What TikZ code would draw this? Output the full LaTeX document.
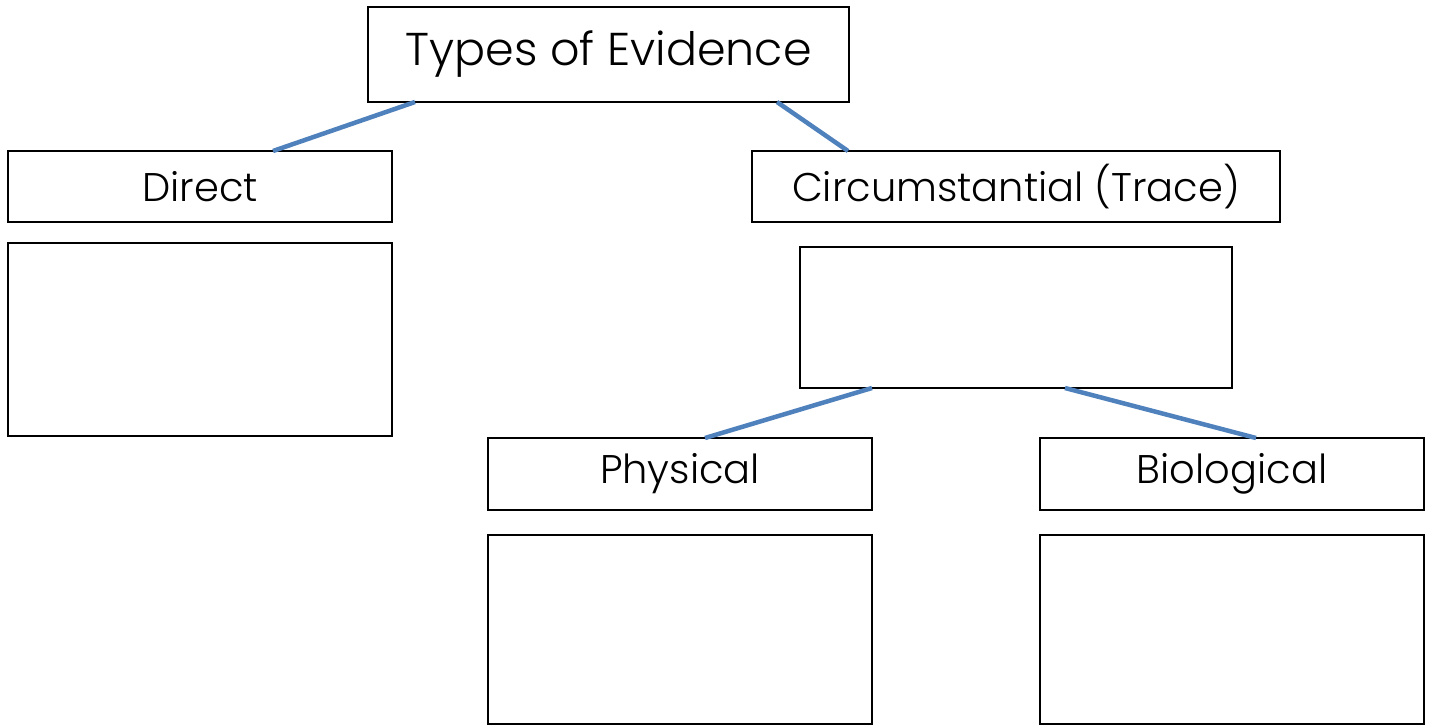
\documentclass[tikz,border=0pt]{standalone}
\usepackage{fontspec}
\setmainfont{Poppins Light}
\begin{document}
\begin{tikzpicture}[x=1pt,y=-1pt,
  box/.style={draw=black, line width=1.8pt, inner sep=0pt, outer sep=0pt},
  lbl/.style={font=\fontsize{40}{48}\selectfont},
  conn/.style={draw={rgb,255:red,79;green,129;blue,189}, line width=4.5pt}]
\useasboundingbox (0,0) rectangle (1430,727);
\fill[white] (0,0) rectangle (1430,727);
\node[box, minimum width=481pt, minimum height=95pt, font=\fontsize{46}{54}\selectfont] (types) at (608.5,54.5) {Types of Evidence};
\node[box, lbl, minimum width=384pt, minimum height=71pt] (direct) at (200,186.5) {Direct};
\node[box, minimum width=384pt, minimum height=193pt] (dempty) at (200,339.5) {};
\node[box, lbl, minimum width=528pt, minimum height=71pt] (circ) at (1016,186.5) {Circumstantial (Trace)};
\node[box, minimum width=432pt, minimum height=141pt] (cempty) at (1016,317.5) {};
\node[box, lbl, minimum width=384pt, minimum height=72pt] (phys) at (680,474) {Physical};
\node[box, lbl, minimum width=384pt, minimum height=72pt] (bio) at (1232,474) {Biological};
\node[box, minimum width=384pt, minimum height=189pt] (pempty) at (680,629.5) {};
\node[box, minimum width=384pt, minimum height=189pt] (bempty) at (1232,629.5) {};
\draw[conn] ([xshift=47pt]types.south west) -- ([xshift=265pt]direct.north west);
\draw[conn] ([xshift=409pt]types.south west) -- ([xshift=96pt]circ.north west);
\draw[conn] ([xshift=72pt]cempty.south west) -- ([xshift=217pt]phys.north west);
\draw[conn] ([xshift=265pt]cempty.south west) -- ([xshift=216pt]bio.north west);
\end{tikzpicture}
\end{document}
